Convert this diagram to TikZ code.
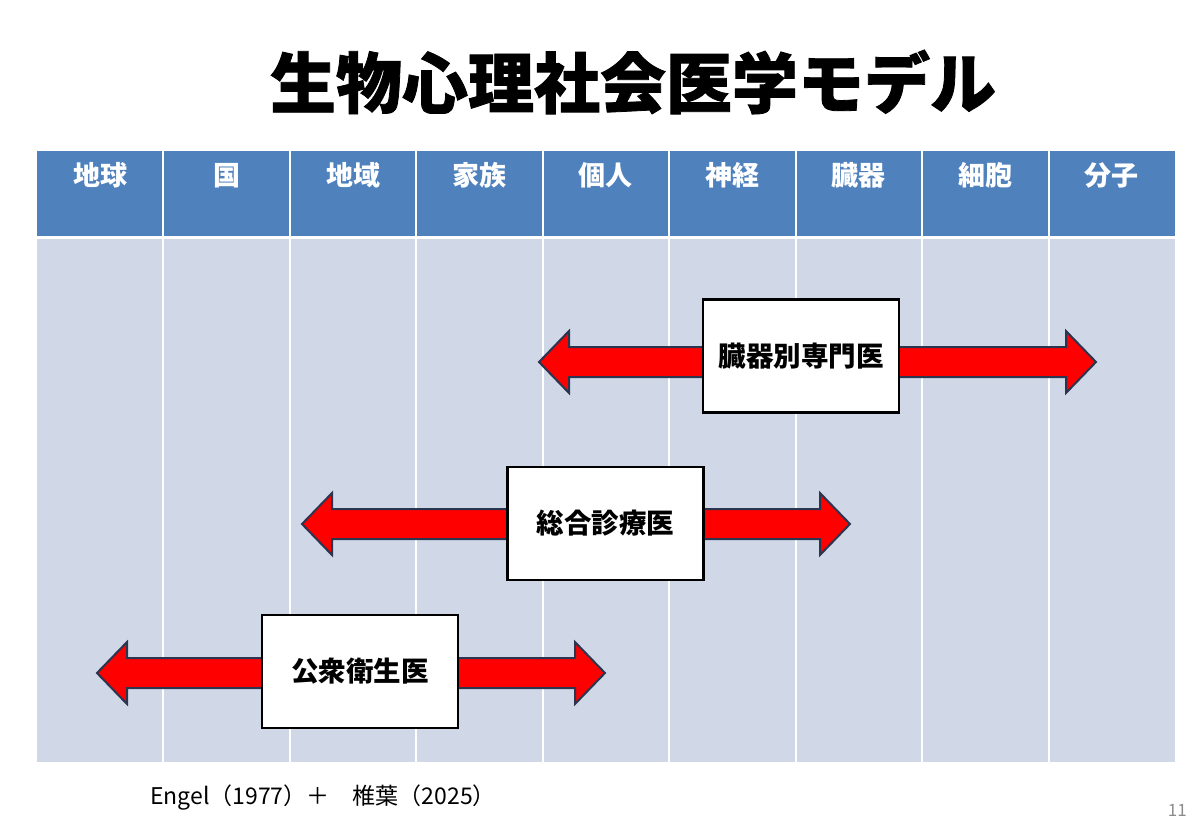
\documentclass[tikz,border=0pt]{standalone}
\usepackage{fontspec}
\newfontfamily\cjk{Noto Sans CJK JP}
\newfontfamily\cjkheavy{Noto Sans CJK JP}[FakeBold=1.2]
\definecolor{hdrblue}{HTML}{4F81BD}
\definecolor{bodyblue}{HTML}{D0D8E8}
\definecolor{arrowred}{HTML}{FF0000}
\definecolor{arrowedge}{HTML}{2B3550}
\definecolor{pagegray}{HTML}{8C8C8C}
\tikzset{
  hdrlabel/.style={text=white, font=\cjk\bfseries\fontsize{27}{30}\selectfont, inner sep=0pt},
  docbox/.style={draw=black, line width=2.5pt, fill=white, inner sep=0pt,
    minimum width=196pt, minimum height=113pt,
    font=\cjk\bfseries\fontsize{27.5}{30}\selectfont},
  redarrow/.style={fill=arrowred, draw=arrowedge, line width=2pt, line join=miter},
}
\begin{document}
\begin{tikzpicture}[x=1pt,y=-1pt]
\useasboundingbox (0,0) rectangle (1200,831);
% title
\node[font=\cjkheavy\bfseries\fontsize{66}{72}\selectfont, inner sep=0pt] (title) at (633,82) {生物心理社会医学モデル};
% table
\fill[hdrblue] (37,151) rectangle (1175,236);
\fill[bodyblue] (37,239) rectangle (1175,762);
\foreach \i in {1,...,8} {
  \draw[white, line width=2pt] ({37+126.44*\i},151) -- ({37+126.44*\i},762);
}
\foreach \lab [count=\i from 0] in {地球,国,地域,家族,個人,神経,臓器,細胞,分子} {
  \node[hdrlabel] (h\i) at ({37+126.44*(\i+0.5)},175.5) {\lab};
}
% arrows
\foreach \L/\R/\c in {539/1096/362, 302/850/524, 97/605/673} {
  \draw[redarrow] (\L,\c) -- (\L+30,\c-31) -- (\L+30,\c-15) -- (\R-30,\c-15)
    -- (\R-30,\c-31) -- (\R,\c) -- (\R-30,\c+31) -- (\R-30,\c+15)
    -- (\L+30,\c+15) -- (\L+30,\c+31) -- cycle;
}
\node[docbox] (organ) at (801,356) {臓器別専門医};
\node[docbox] (general) at (605.5,523.5) {総合診療医};
\node[docbox] (public) at (360,671.5) {公衆衛生医};
% footer
\node[anchor=west, inner sep=0pt, font=\cjk\fontsize{23}{26}\selectfont] (cite) at (150,798) {Engel（1977）＋　椎葉（2025）};
\node[anchor=east, inner sep=0pt, text=pagegray, font=\cjk\fontsize{17}{19}\selectfont] (page) at (1187,810) {11};
\end{tikzpicture}
\end{document}
